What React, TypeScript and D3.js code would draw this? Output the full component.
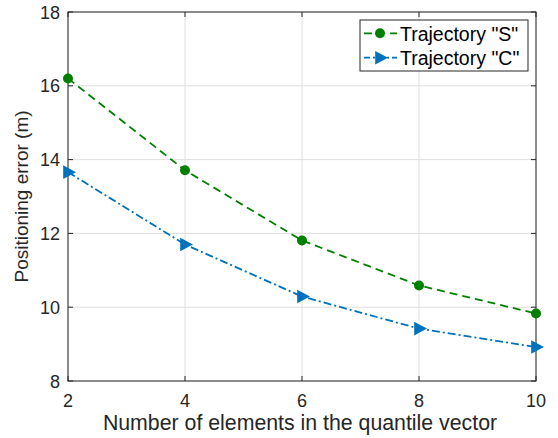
import React from "react";
import * as d3 from "d3";

const xValues = [2, 4, 6, 8, 10];
const trajS = [16.2, 13.71, 11.81, 10.59, 9.83];
const trajC = [13.66, 11.7, 10.29, 9.42, 8.92];
const xTicks = [2, 4, 6, 8, 10];
const yTicks = [8, 10, 12, 14, 16, 18];
const seriesNames = ['Trajectory "S"', 'Trajectory "C"'];

const W = 558, H = 438;
const L = 68, R = 536, T = 12, B = 381;
const FONT = "'Liberation Sans', Arial, Helvetica, sans-serif";
const GREEN = "#008000";
const BLUE = "#0072BD";
const AX = "#262626";

export default function App() {
  const x = d3.scaleLinear().domain([2, 10]).range([L, R]);
  const y = d3.scaleLinear().domain([8, 18]).range([B, T]);
  const line = d3.line<number>().x((_, i) => x(xValues[i])).y((d) => y(d));
  const tri = (cx: number, cy: number, s = 8) =>
    `M${cx + s},${cy} L${cx - s * 0.6},${cy - s * 0.85} L${cx - s * 0.6},${cy + s * 0.85} Z`;
  const tk = 5;
  return (
    <svg width={W} height={H} style={{ position: "absolute", left: 0, top: 0, background: "#fff" }} fontFamily={FONT}>
      <rect x={0} y={0} width={W} height={H} fill="#fff" />
      {xTicks.map((t) => (
        <line key={"gx" + t} x1={x(t)} x2={x(t)} y1={T} y2={B} stroke="#dfdfdf" strokeWidth={1} />
      ))}
      {yTicks.map((t) => (
        <line key={"gy" + t} x1={L} x2={R} y1={y(t)} y2={y(t)} stroke="#dfdfdf" strokeWidth={1} />
      ))}
      {xTicks.map((t) => (
        <g key={"tx" + t}>
          <line x1={x(t)} x2={x(t)} y1={B} y2={B - tk} stroke={AX} />
          <line x1={x(t)} x2={x(t)} y1={T} y2={T + tk} stroke={AX} />
          <text x={x(t)} y={407} textAnchor="middle" fontSize={18} fill={AX}>{t}</text>
        </g>
      ))}
      {yTicks.map((t) => (
        <g key={"ty" + t}>
          <line x1={L} x2={L + tk} y1={y(t)} y2={y(t)} stroke={AX} />
          <line x1={R} x2={R - tk} y1={y(t)} y2={y(t)} stroke={AX} />
          <text x={60} y={y(t) + 6.5} textAnchor="end" fontSize={18} fill={AX}>{t}</text>
        </g>
      ))}
      <rect x={L} y={T} width={R - L} height={B - T} fill="none" stroke={AX} strokeWidth={1} />
      <path d={line(trajS) || ""} fill="none" stroke={GREEN} strokeWidth={1.8} strokeDasharray="8,5" />
      <path d={line(trajC) || ""} fill="none" stroke={BLUE} strokeWidth={1.8} strokeDasharray="8,3,2,3" />
      {trajS.map((v, i) => (
        <circle key={"s" + i} cx={x(xValues[i])} cy={y(v)} r={5} fill={GREEN} />
      ))}
      {trajC.map((v, i) => (
        <path key={"c" + i} d={tri(x(xValues[i]), y(v))} fill={BLUE} />
      ))}
      <text x={300} y={430} textAnchor="middle" fontSize={21.3} fill={AX}>Number of elements in the quantile vector</text>
      <text transform={`translate(28,${(T + B) / 2}) rotate(-90)`} textAnchor="middle" fontSize={19} fill={AX}>Positioning error (m)</text>
      <g>
        <rect x={360} y={20} width={168} height={51} fill="#fff" stroke={AX} strokeWidth={1} />
        <line x1={364} x2={397} y1={33.3} y2={33.3} stroke={GREEN} strokeWidth={1.8} strokeDasharray="8,5" />
        <circle cx={380} cy={33.3} r={5} fill={GREEN} />
        <text x={400} y={40.7} fontSize={19.5} fill="#000">{seriesNames[0]}</text>
        <line x1={364} x2={397} y1={57.7} y2={57.7} stroke={BLUE} strokeWidth={1.8} strokeDasharray="6,3,2,3" />
        <path d={tri(380, 57.7)} fill={BLUE} />
        <text x={400} y={64.5} fontSize={19.5} fill="#000">{seriesNames[1]}</text>
      </g>
    </svg>
  );
}
